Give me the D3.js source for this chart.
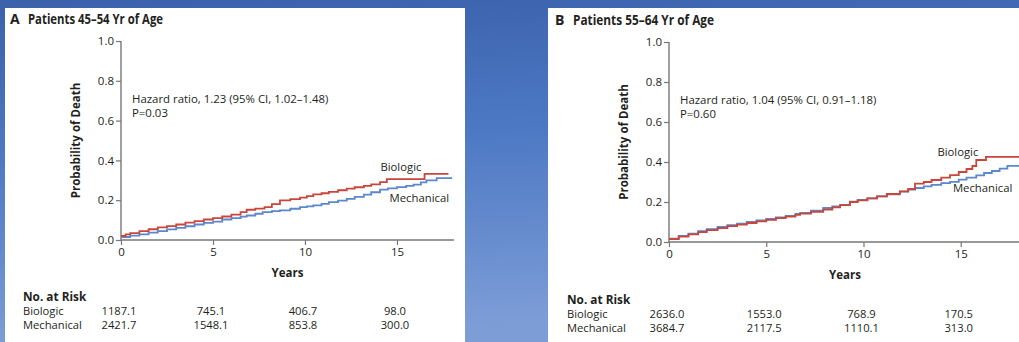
<!DOCTYPE html>
<html><head><meta charset="utf-8">
<script src="https://cdn.jsdelivr.net/npm/d3@7"></script>
<style>
html,body{margin:0;padding:0;background:#fff;}
svg{display:block;font-family:"Open Sans",sans-serif;}
</style></head>
<body>
<svg id="chart" width="1019" height="342"></svg>
<script>
// ---------- data ----------
const yTicks = [0, 0.2, 0.4, 0.6, 0.8, 1.0];
const xTicks = [0, 5, 10, 15];
const riskYears = [0, 5, 10, 15];

// Panel A: Patients 45–54 yr
const titleA = "Patients 45\u201354 Yr of Age";
const hazardA = ["Hazard ratio, 1.23 (95% CI, 1.02\u20131.48)", "P=0.03"];
const biologicA_t = [0, 0.25, 0.5, 1, 1.5, 2, 2.5, 3, 3.5, 4, 4.5, 5, 5.5, 6, 6.5, 6.83, 7.3, 7.8, 8.2, 8.64, 9.2, 9.73, 10.1, 10.45, 10.9, 11.3, 11.8, 12.27, 12.7, 13.2, 13.6, 14.08, 14.45, 16.5, 17.8];
const biologicA_p = [0.02, 0.028, 0.035, 0.045, 0.054, 0.063, 0.07, 0.078, 0.087, 0.095, 0.103, 0.11, 0.118, 0.128, 0.14, 0.152, 0.158, 0.165, 0.18, 0.199, 0.205, 0.213, 0.22, 0.229, 0.235, 0.242, 0.25, 0.258, 0.265, 0.272, 0.28, 0.291, 0.306, 0.332, 0.332];
const mechanicalA_t = [0, 0.5, 1, 1.5, 2, 2.5, 3, 3.5, 4, 4.5, 5, 5.5, 6, 6.5, 6.83, 7.3, 7.7, 8.2, 8.64, 9.2, 9.73, 10.1, 10.45, 10.9, 11.3, 11.8, 12.27, 12.7, 13.2, 13.6, 14.08, 14.5, 15, 15.5, 15.9, 16.3, 16.6, 17.16, 18.0];
const mechanicalA_p = [0.015, 0.022, 0.028, 0.037, 0.045, 0.053, 0.061, 0.069, 0.078, 0.086, 0.092, 0.103, 0.11, 0.117, 0.123, 0.132, 0.14, 0.145, 0.149, 0.157, 0.165, 0.169, 0.174, 0.182, 0.19, 0.198, 0.207, 0.217, 0.228, 0.24, 0.253, 0.259, 0.266, 0.272, 0.278, 0.29, 0.30, 0.311, 0.311];
const riskBiologicA = ["1187.1", "745.1", "406.7", "98.0"];
const riskMechanicalA = ["2421.7", "1548.1", "853.8", "300.0"];

// Panel B: Patients 55–64 yr
const titleB = "Patients 55\u201364 Yr of Age";
const hazardB = ["Hazard ratio, 1.04 (95% CI, 0.91\u20131.18)", "P=0.60"];
const biologicB_t = [0, 0.5, 1, 1.5, 1.94, 2.5, 3, 3.5, 4, 4.5, 5, 5.5, 6, 6.5, 6.74, 7.3, 7.93, 8.4, 8.8, 9.3, 9.7, 10.2, 10.7, 11.2, 11.87, 12.3, 12.65, 13.1, 13.5, 14, 14.45, 14.9, 15.3, 15.6, 15.8, 16.3, 18.1];
const biologicB_p = [0.015, 0.027, 0.038, 0.049, 0.059, 0.069, 0.079, 0.087, 0.095, 0.103, 0.111, 0.119, 0.127, 0.136, 0.142, 0.151, 0.162, 0.173, 0.184, 0.2, 0.208, 0.218, 0.228, 0.24, 0.253, 0.265, 0.292, 0.3, 0.31, 0.322, 0.334, 0.35, 0.365, 0.38, 0.41, 0.426, 0.426];
const mechanicalB_t = [0, 0.5, 1, 1.5, 1.94, 2.5, 3, 3.5, 4, 4.5, 5, 5.5, 6, 6.5, 6.74, 7.3, 7.93, 8.4, 8.8, 9.3, 9.7, 10.2, 10.7, 11.2, 11.87, 12.3, 12.65, 13.1, 13.5, 14, 14.45, 14.9, 15.3, 15.8, 16.2, 16.6, 17.0, 17.4, 18.1];
const mechanicalB_p = [0.017, 0.03, 0.042, 0.054, 0.064, 0.075, 0.084, 0.092, 0.1, 0.108, 0.115, 0.123, 0.131, 0.14, 0.145, 0.157, 0.17, 0.178, 0.186, 0.202, 0.21, 0.218, 0.228, 0.238, 0.252, 0.262, 0.27, 0.278, 0.286, 0.294, 0.301, 0.312, 0.322, 0.333, 0.345, 0.355, 0.367, 0.381, 0.381];
const riskBiologicB = ["2636.0", "1553.0", "768.9", "170.5"];
const riskMechanicalB = ["3684.7", "2117.5", "1110.1", "313.0"];

const colors = {Biologic: "#c8463a", Mechanical: "#5b87cc"};

// ---------- drawing ----------
const svg = d3.select("#chart");
const defs = svg.append("defs");
const grad = defs.append("linearGradient").attr("id", "bg").attr("x1", 0).attr("y1", 0).attr("x2", 0.15).attr("y2", 1);
grad.append("stop").attr("offset", "0%").attr("stop-color", "#3b61ab");
grad.append("stop").attr("offset", "45%").attr("stop-color", "#4d79c4");
grad.append("stop").attr("offset", "100%").attr("stop-color", "#7d9dd7");
svg.append("rect").attr("width", 1019).attr("height", 342).attr("fill", "url(#bg)");

const TXT = "#231f20";
const AX = "#777";

function panel(cfg) {
  const g = svg.append("g");
  g.append("rect").attr("x", cfg.box[0]).attr("y", cfg.box[1])
    .attr("width", cfg.box[2]).attr("height", cfg.box[3]).attr("fill", "#fff");

  const x = d3.scaleLinear().domain([0, cfg.xMax]).range([cfg.x0, cfg.x1]);
  const y = d3.scaleLinear().domain([0, 1]).range([cfg.y0, cfg.y1]);

  // title
  g.append("text").attr("x", cfg.box[0] + cfg.letterDx).attr("y", cfg.titleY)
    .attr("font-size", 14).attr("font-weight", 700).attr("fill", TXT).text(cfg.letter);
  g.append("text").attr("x", cfg.box[0] + cfg.titleDx).attr("y", cfg.titleY)
    .attr("font-size", 13.3).attr("font-weight", 700).attr("fill", TXT)
    .attr("textLength", cfg.titleLen).attr("lengthAdjust", "spacingAndGlyphs").text(cfg.title);

  // y axis
  const yAxis = d3.axisLeft(y).tickValues(yTicks).tickFormat(d3.format(".1f")).tickSize(5).tickPadding(2);
  const ya = g.append("g").attr("transform", `translate(${cfg.x0},0)`).call(yAxis);
  // x axis
  const xAxis = d3.axisBottom(x).tickValues(xTicks).tickFormat(d3.format("d")).tickSize(5).tickPadding(3);
  const xa = g.append("g").attr("transform", `translate(0,${cfg.y0})`).call(xAxis);
  [ya, xa].forEach(a => {
    a.select(".domain").attr("stroke", AX).attr("stroke-width", 1.4);
    a.selectAll(".tick line").attr("stroke", AX).attr("stroke-width", 1.2);
    a.selectAll(".tick text").attr("fill", TXT).attr("font-size", 11.5)
      .attr("font-family", "'Open Sans',sans-serif");
  });
  ya.select(".domain").attr("d", `M0,${cfg.y0}V${cfg.y1}`);
  xa.select(".domain").attr("d", `M${cfg.x0},0H${cfg.x1}`);

  // y label
  g.append("text").attr("transform", `translate(${cfg.yLabelX},${(cfg.y0 + cfg.y1) / 2}) rotate(-90)`)
    .attr("text-anchor", "middle").attr("font-size", 11.5).attr("font-weight", 700).attr("fill", TXT)
    .text("Probability of Death");
  // x label
  g.append("text").attr("x", x(cfg.xMax / 2)).attr("y", cfg.y0 + 37)
    .attr("text-anchor", "middle").attr("font-size", 11.5).attr("font-weight", 700).attr("fill", TXT)
    .text("Years");

  // hazard text
  cfg.hazard.forEach((t, i) => {
    g.append("text").attr("x", x(0) + 11).attr("y", y(0.69) + i * 14.3)
      .attr("font-size", 11.4).attr("fill", TXT).text(t);
  });

  // curves
  const clip = "clip" + cfg.letter;
  defs.append("clipPath").attr("id", clip).append("rect")
    .attr("x", cfg.box[0]).attr("y", cfg.box[1]).attr("width", cfg.box[2]).attr("height", cfg.box[3]);
  const line = d3.line().x(d => x(d[0])).y(d => y(d[1])).curve(d3.curveStepAfter);
  cfg.series.forEach(s => {
    const pts = s.t.map((t, i) => [t, s.p[i]]);
    g.append("path").attr("d", line(pts)).attr("fill", "none")
      .attr("stroke", colors[s.name]).attr("stroke-width", 1.8)
      .attr("clip-path", `url(#${clip})`);
  });

  // curve labels
  cfg.curveLabels.forEach(l => {
    g.append("text").attr("x", x(l.t)).attr("y", y(l.p))
      .attr("font-size", 11.3).attr("fill", TXT).text(l.name);
  });

  // number at risk
  g.append("text").attr("x", cfg.riskX).attr("y", cfg.riskY)
    .attr("font-size", 11.8).attr("font-weight", 700).attr("fill", TXT).text("No. at Risk");
  const rows = [["Biologic", cfg.riskB], ["Mechanical", cfg.riskM]];
  rows.forEach((r, ri) => {
    const yy = cfg.riskY + 14 + ri * 14.3;
    g.append("text").attr("x", cfg.riskX).attr("y", yy).attr("font-size", 11.2).attr("fill", TXT).text(r[0]);
    r[1].forEach((v, i) => {
      g.append("text").attr("x", x(riskYears[i]) - 2).attr("y", yy)
        .attr("text-anchor", "middle").attr("font-size", 11.2).attr("fill", TXT).text(v);
    });
  });
}

panel({
  letter: "A", title: titleA, hazard: hazardA,
  box: [5, 8, 460, 340], letterDx: 5, titleDx: 23, titleY: 24, titleLen: 135,
  xMax: 18.1, x0: 121, x1: 454, y0: 240, y1: 41, yLabelX: 80,
  series: [
    {name: "Mechanical", t: mechanicalA_t, p: mechanicalA_p},
    {name: "Biologic", t: biologicA_t, p: biologicA_p}
  ],
  curveLabels: [
    {name: "Biologic", t: 14.1, p: 0.345},
    {name: "Mechanical", t: 14.6, p: 0.19}
  ],
  riskX: 23, riskY: 301, riskB: riskBiologicA, riskM: riskMechanicalA
});

panel({
  letter: "B", title: titleB, hazard: hazardB,
  box: [548, 8, 480, 340], letterDx: 7, titleDx: 25, titleY: 25, titleLen: 141,
  xMax: 18.1, x0: 669, x1: 1021, y0: 242, y1: 42, yLabelX: 628,
  series: [
    {name: "Mechanical", t: mechanicalB_t, p: mechanicalB_p},
    {name: "Biologic", t: biologicB_t, p: biologicB_p}
  ],
  curveLabels: [
    {name: "Biologic", t: 13.8, p: 0.43},
    {name: "Mechanical", t: 14.6, p: 0.25}
  ],
  riskX: 567, riskY: 304, riskB: riskBiologicB, riskM: riskMechanicalB
});
</script>
</body></html>
